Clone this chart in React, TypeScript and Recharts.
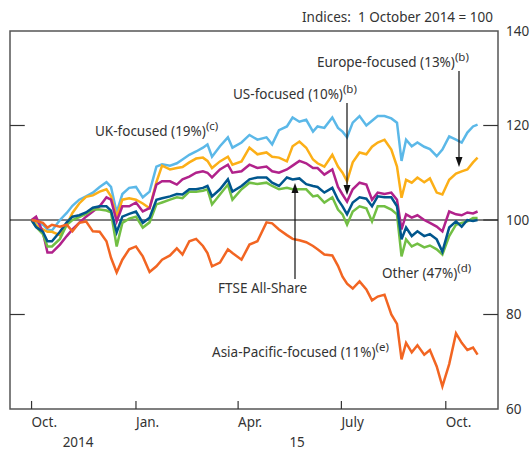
import React from "react";
import { LineChart, Line, XAxis, YAxis, ReferenceLine, ReferenceArea } from "recharts";

// days after 1 October 2014
const days = [
  0, 4, 10, 14, 18, 25, 31, 36, 42, 48,
  54, 60, 66, 70, 75, 80, 86, 92, 98, 104,
  110, 115, 122, 128, 133, 139, 145, 151, 155, 159,
  166, 173, 177, 185, 192, 199, 207, 212, 218, 225,
  230, 236, 242, 248, 252, 258, 265, 270, 274, 278,
  283, 289, 295, 300, 305, 311, 317, 322, 326, 330,
  335, 340, 346, 351, 357, 362, 368, 374, 379, 384,
  389, 393,
];

const ukFocused = [
  100, 99.5, 99, 98, 97.8, 100, 101.5, 103, 104.3, 105,
  105.8, 107, 108, 107, 101.6, 105.5, 106.8, 107, 104.8, 106,
  111.3, 111.8, 111.5, 112, 112.8, 113.8, 114.5, 115.3, 116, 113.4,
  115.6, 117.5, 115.3, 116.4, 118, 117, 117.5, 116, 119, 119.8,
  121.7, 120.8, 121.2, 118.7, 119.8, 119.5, 121.7, 119.5, 118.7, 117.5,
  120.6, 122, 120, 121, 122, 122, 121.5, 120.6, 112.5, 117,
  115.6, 116.4, 115.5, 115, 113.5, 114.9, 117.7, 117, 116.4, 118.5,
  119.8, 120.2,
];

const europeFocused = [
  100, 99, 98, 97.5, 97.5, 96.8, 99, 101.5, 103.5, 104.9,
  105.2, 106, 106.5, 105, 100.7, 104.3, 104.6, 104.3, 103.5, 102.5,
  108, 111.5, 110.7, 111, 111.2, 112.2, 113, 113.2, 112.5, 111,
  112.4, 113.4, 111.7, 112.4, 115.3, 113.9, 114.3, 113.4, 113.2, 112.4,
  115.6, 116.6, 115.3, 112.8, 112, 111.3, 113.8, 111.3, 110, 108.2,
  112.2, 114.3, 113.9, 115.5, 116.4, 117, 114.9, 111.3, 104.7, 108.5,
  107.9, 109, 108, 108.8, 105.8, 105.4, 108.5, 109.8, 110.3, 110.7,
  112.2, 113.2,
];

const usFocused = [
  100, 100.7, 97.4, 93.1, 93.1, 94.8, 96.6, 98, 99.4, 100.7,
  101.8, 102.9, 104.8, 104.3, 99.7, 102.9, 102.9, 103.7, 101.8, 102.5,
  107.5, 108.2, 108.2, 107.5, 108.6, 109.2, 110, 110.3, 110, 109,
  110.7, 111.7, 110, 110.3, 111.7, 111, 111.3, 110.3, 110, 110.7,
  111.5, 112.5, 112, 111, 111, 109.6, 110.7, 107, 105.4, 103.9,
  106.5, 107.9, 107.5, 104.3, 105.8, 105.5, 105.8, 104.3, 98, 101.2,
  100.5, 101, 100, 99.4, 98.6, 97.6, 101.8, 101.2, 101, 101.6,
  101.4, 101.8,
];

const ftseAllShare = [
  100, 98.5, 97.5, 95.5, 95.5, 97.5, 99.5, 100.7, 101, 101.6,
  102.6, 102.9, 102.9, 102, 97.4, 100.7, 101.3, 101.8, 99.4, 100.5,
  104.3, 104.6, 105, 105.5, 105.4, 106.5, 106.5, 106.8, 107.2, 105,
  106.5, 108.6, 106, 107.2, 108.6, 109, 109, 107.9, 107.2, 109,
  108.6, 108.8, 107.6, 107.2, 107, 105.8, 106.8, 104.3, 102.9, 101.2,
  103.7, 104.8, 104.5, 102.9, 105, 104.8, 104.8, 102.9, 95.9, 98.4,
  96.6, 97.6, 96.6, 97, 95.9, 93.3, 98.4, 99.7, 98.6, 100,
  99.8, 100,
];

const other = [
  100, 98.5, 97, 94.4, 94.4, 96, 99, 100, 100.6, 101.3,
  102.2, 102.2, 102, 101.6, 94.4, 99.4, 100.3, 100.7, 98.4, 99.5,
  103.3, 103.7, 104.3, 104.8, 104.6, 106, 106, 106.2, 106.5, 103.3,
  105.4, 107.5, 104.3, 106.5, 107.9, 107.6, 107.9, 107.2, 106.5, 106.8,
  106.5, 106.5, 106.5, 105, 105.2, 103.7, 104.8, 102.2, 101.2, 99,
  101.8, 102.9, 102.5, 99.7, 102.9, 102.9, 102.2, 101.2, 92.3, 95.9,
  94.4, 95, 94.2, 94.6, 93.8, 92.7, 96.6, 99, 99.4, 99.7,
  100.4, 100.4,
];

const asiaPacific = [
  100, 99.8, 99.4, 98.4, 99, 98.6, 99, 97.6, 99.4, 99.7,
  97.6, 97.5, 95.5, 92, 88.9, 91.6, 93.8, 94.4, 92.3, 89,
  90.2, 91.6, 92.5, 94, 92.7, 95.5, 96, 94.5, 93, 90.2,
  91, 93.8, 93, 91.6, 94.8, 95.5, 99.5, 99.3, 98, 96.8,
  96, 95.7, 95.3, 94.5, 93.8, 92.7, 92.5, 90.3, 88, 86.5,
  85.5, 87, 85.3, 83, 83.8, 84.2, 80, 78, 70.5, 74,
  72, 73.5, 71.5, 72.5, 69, 64.8, 69.5, 76, 74, 72.5,
  73, 71.5,
];

// axis ticks
const monthTicks = [0, 92, 182, 273, 365];
const monthLabels = ["Oct.", "Jan.", "Apr.", "July", "Oct."];
const yearTicks = [41, 234];
const yearLabels = ["2014", "15"];
const yTicks = [60, 80, 100, 120, 140];
const innerTicks = [80, 100, 120];

const X_MIN = -19;
const X_MAX = 411;
const FONT = "'Noto Sans', sans-serif";
const FS = 13.5;
const TEXT = "#333333";

const data = days.map((d, i) => ({
  day: d,
  uk: ukFocused[i],
  europe: europeFocused[i],
  us: usFocused[i],
  ftse: ftseAllShare[i],
  other: other[i],
  asia: asiaPacific[i],
}));

const MonthTick = (props: any) => {
  const { x, y, payload } = props;
  const idx = monthTicks.indexOf(payload.value);
  return (
    <text x={x} y={y + 10} fontSize={FS} fontFamily={FONT} fill={TEXT} textAnchor="start">
      {monthLabels[idx]}
    </text>
  );
};

const YearTick = (props: any) => {
  const { x, payload } = props;
  const idx = yearTicks.indexOf(payload.value);
  return (
    <text x={x} y={447} fontSize={FS} fontFamily={FONT} fill={TEXT} textAnchor="middle">
      {yearLabels[idx]}
    </text>
  );
};

const Sup = ({ children }: { children: React.ReactNode }) => (
  <tspan dy={-6} fontSize={11.5}>{children}</tspan>
);

const Arrow = ({ x, y1, y2 }: { x: number; y1: number; y2: number }) => {
  const dir = y2 > y1 ? 1 : -1;
  return (
    <g>
      <line x1={x} y1={y1} x2={x} y2={y2 - dir * 8} stroke="#111" strokeWidth={1.2} />
      <polygon
        points={`${x - 3.5},${y2 - dir * 10} ${x + 3.5},${y2 - dir * 10} ${x},${y2}`}
        fill="#111"
      />
    </g>
  );
};

const Annotations = () => (
  <svg
    width={530}
    height={453}
    style={{ position: "absolute", left: 0, top: 0, pointerEvents: "none" }}
    fontFamily={FONT}
    fontSize={FS}
    fill={TEXT}
  >
    <text x={493} y={22} textAnchor="end">{"Indices:\u00a0 1 October 2014 = 100"}</text>

    <text x={317} y={67}>Europe-focused (13%)<Sup>(b)</Sup></text>
    <Arrow x={459} y1={71} y2={167} />

    <text x={233} y={99}>US-focused (10%)<Sup>(b)</Sup></text>
    <Arrow x={347} y1={103} y2={195} />

    <text x={95} y={136}>UK-focused (19%)<Sup>(c)</Sup></text>

    <text x={218} y={293}>FTSE All-Share</text>
    <Arrow x={295} y1={279} y2={183} />

    <text x={382} y={278}>Other (47%)<Sup>(d)</Sup></text>

    <text x={212} y={357}>Asia-Pacific-focused (11%)<Sup>(e)</Sup></text>
  </svg>
);

export default function App() {
  return (
    <div style={{ position: "absolute", left: 0, top: 0, width: 530, height: 453, background: "#fff" }}>
      <LineChart width={530} height={453} data={data} margin={{ top: 31, right: 0, bottom: 0, left: 10 }}>
        <XAxis
          dataKey="day"
          type="number"
          domain={[X_MIN, X_MAX]}
          ticks={monthTicks}
          tick={<MonthTick />}
          tickLine={false}
          axisLine={false}
          height={24}
          allowDataOverflow
        />
        <XAxis
          xAxisId="yr"
          dataKey="day"
          type="number"
          domain={[X_MIN, X_MAX]}
          ticks={yearTicks}
          tick={<YearTick />}
          tickLine={false}
          axisLine={false}
          height={20}
          allowDataOverflow
        />
        <YAxis
          orientation="right"
          domain={[60, 140]}
          ticks={yTicks}
          tick={{ fontSize: FS, fontFamily: FONT, fill: TEXT, textAnchor: "start" }}
          tickLine={false}
          axisLine={false}
          width={32}
          allowDataOverflow
        />

        <ReferenceLine y={100} stroke="#000" strokeWidth={1} />

        {innerTicks.map((t) => (
          <ReferenceLine
            key={"r" + t}
            segment={[{ x: X_MAX - 13, y: t }, { x: X_MAX, y: t }]}
            stroke="#333"
            strokeWidth={1.2}
          />
        ))}
        {[80, 120].map((t) => (
          <ReferenceLine
            key={"l" + t}
            segment={[{ x: X_MIN, y: t }, { x: X_MIN + 13, y: t }]}
            stroke="#333"
            strokeWidth={1.2}
          />
        ))}
        {monthTicks.map((t) => (
          <ReferenceLine
            key={"b" + t}
            segment={[{ x: t, y: 60 }, { x: t, y: 61.7 }]}
            stroke="#333"
            strokeWidth={1.2}
          />
        ))}

        <Line dataKey="uk" type="linear" stroke="#5bb8e8" strokeWidth={2.5} dot={false} isAnimationActive={false} />
        <Line dataKey="europe" type="linear" stroke="#fcaf17" strokeWidth={2.5} dot={false} isAnimationActive={false} />
        <Line dataKey="us" type="linear" stroke="#b1228b" strokeWidth={2.5} dot={false} isAnimationActive={false} />
        <Line dataKey="other" type="linear" stroke="#72bf44" strokeWidth={2.5} dot={false} isAnimationActive={false} />
        <Line dataKey="ftse" type="linear" stroke="#00568d" strokeWidth={2.5} dot={false} isAnimationActive={false} />
        <Line dataKey="asia" type="linear" stroke="#f26522" strokeWidth={2.5} dot={false} isAnimationActive={false} />

        <ReferenceArea x1={X_MIN} x2={X_MAX} y1={60} y2={140} fill="none" stroke="#555" strokeWidth={1.5} />
      </LineChart>
      <Annotations />
    </div>
  );
}
